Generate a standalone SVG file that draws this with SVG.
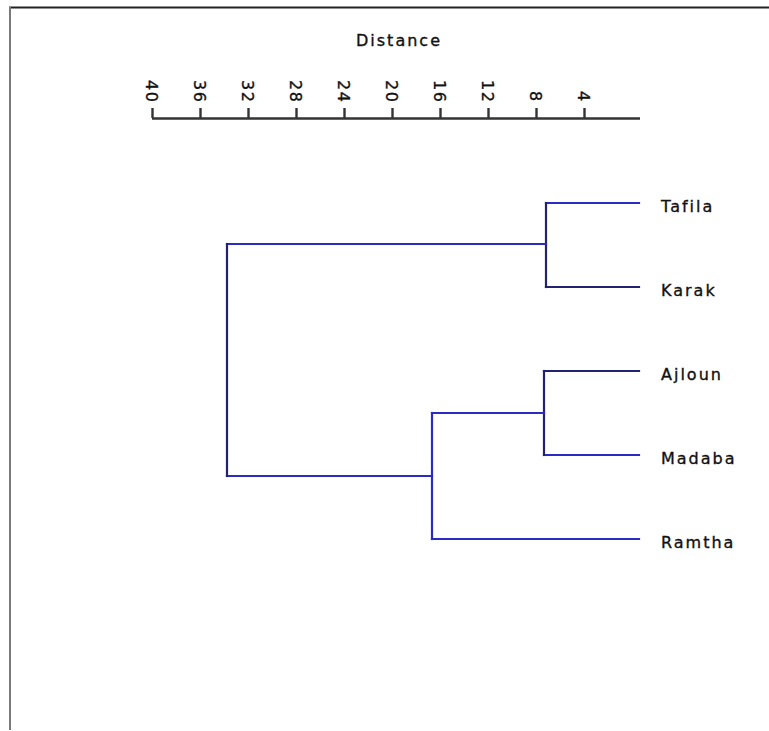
<svg xmlns="http://www.w3.org/2000/svg" width="769" height="731" viewBox="0 0 769 731">
  <style>
    .lbl { font-family: "DejaVu Sans", Verdana, sans-serif; font-size: 16px; fill: #111; stroke: #111; stroke-width: 0.35px; letter-spacing: 2px; }
    .tick-lbl { font-family: "DejaVu Sans", Verdana, sans-serif; font-size: 16px; fill: #111; stroke: #111; stroke-width: 0.35px; letter-spacing: 1.5px; }
    .axis { stroke: #333; stroke-width: 2.4; fill: none; }
    .br { stroke: #2a2ac4; stroke-width: 2.2; fill: none; stroke-linecap: square; }
    .br-dark { stroke: #22226e; stroke-width: 2.2; fill: none; stroke-linecap: square; }
  </style>
  <rect width="769" height="731" fill="#ffffff"/>

  <!-- panel frame -->
  <line x1="9" y1="7.5" x2="769" y2="7.5" stroke="#222" stroke-width="2"/>
  <line x1="10" y1="7" x2="10" y2="730" stroke="#7a7a7a" stroke-width="2"/>

  <!-- distance axis -->
  <g id="axis">
    <text class="lbl" x="399" y="46" text-anchor="middle">Distance</text>
    <line class="axis" x1="152" y1="118.5" x2="640" y2="118.5"/>
    <g class="axis">
      <line x1="152.5" y1="108" x2="152.5" y2="118"/>
      <line x1="200.5" y1="108" x2="200.5" y2="118"/>
      <line x1="248.5" y1="108" x2="248.5" y2="118"/>
      <line x1="296.5" y1="108" x2="296.5" y2="118"/>
      <line x1="344.5" y1="108" x2="344.5" y2="118"/>
      <line x1="392.5" y1="108" x2="392.5" y2="118"/>
      <line x1="440.5" y1="108" x2="440.5" y2="118"/>
      <line x1="488.5" y1="108" x2="488.5" y2="118"/>
      <line x1="536.5" y1="108" x2="536.5" y2="118"/>
      <line x1="584.5" y1="108" x2="584.5" y2="118"/>
    </g>
    <text class="tick-lbl" transform="translate(146,80) rotate(90)">40</text>
    <text class="tick-lbl" transform="translate(194,80) rotate(90)">36</text>
    <text class="tick-lbl" transform="translate(242,80) rotate(90)">32</text>
    <text class="tick-lbl" transform="translate(290,80) rotate(90)">28</text>
    <text class="tick-lbl" transform="translate(338,80) rotate(90)">24</text>
    <text class="tick-lbl" transform="translate(386,80) rotate(90)">20</text>
    <text class="tick-lbl" transform="translate(434,80) rotate(90)">16</text>
    <text class="tick-lbl" transform="translate(482,80) rotate(90)">12</text>
    <text class="tick-lbl" transform="translate(530,91) rotate(90)">8</text>
    <text class="tick-lbl" transform="translate(578,91) rotate(90)">4</text>
  </g>

  <!-- tree branches -->
  <g id="connectors">
    <!-- Tafila / Karak -->
    <line class="br" x1="546" y1="203" x2="639" y2="203"/>
    <line class="br-dark" x1="546" y1="287" x2="639" y2="287"/>
    <line class="br-dark" x1="546" y1="203" x2="546" y2="287"/>
    <!-- (Ajloun, Madaba) -->
    <line class="br-dark" x1="544" y1="371" x2="639" y2="371"/>
    <line class="br" x1="544" y1="455" x2="639" y2="455"/>
    <line class="br-dark" x1="544" y1="371" x2="544" y2="455"/>
    <!-- (Ajloun, Madaba) / Ramtha -->
    <line class="br" x1="432" y1="413" x2="544" y2="413"/>
    <line class="br" x1="432" y1="539" x2="639" y2="539"/>
    <line class="br" x1="432" y1="413" x2="432" y2="539"/>
    <!-- root -->
    <line class="br" x1="227" y1="244" x2="546" y2="244"/>
    <line class="br" x1="227" y1="476" x2="432" y2="476"/>
    <line class="br-dark" x1="227" y1="244" x2="227" y2="476"/>
  </g>

  <!-- leaves -->
  <g id="leaf-tafila"><text class="lbl" x="661" y="212">Tafila</text></g>
  <g id="leaf-karak"><text class="lbl" x="661" y="296">Karak</text></g>
  <g id="leaf-ajloun"><text class="lbl" x="661" y="380">Ajloun</text></g>
  <g id="leaf-madaba"><text class="lbl" x="661" y="464">Madaba</text></g>
  <g id="leaf-ramtha"><text class="lbl" x="661" y="548">Ramtha</text></g>
</svg>
